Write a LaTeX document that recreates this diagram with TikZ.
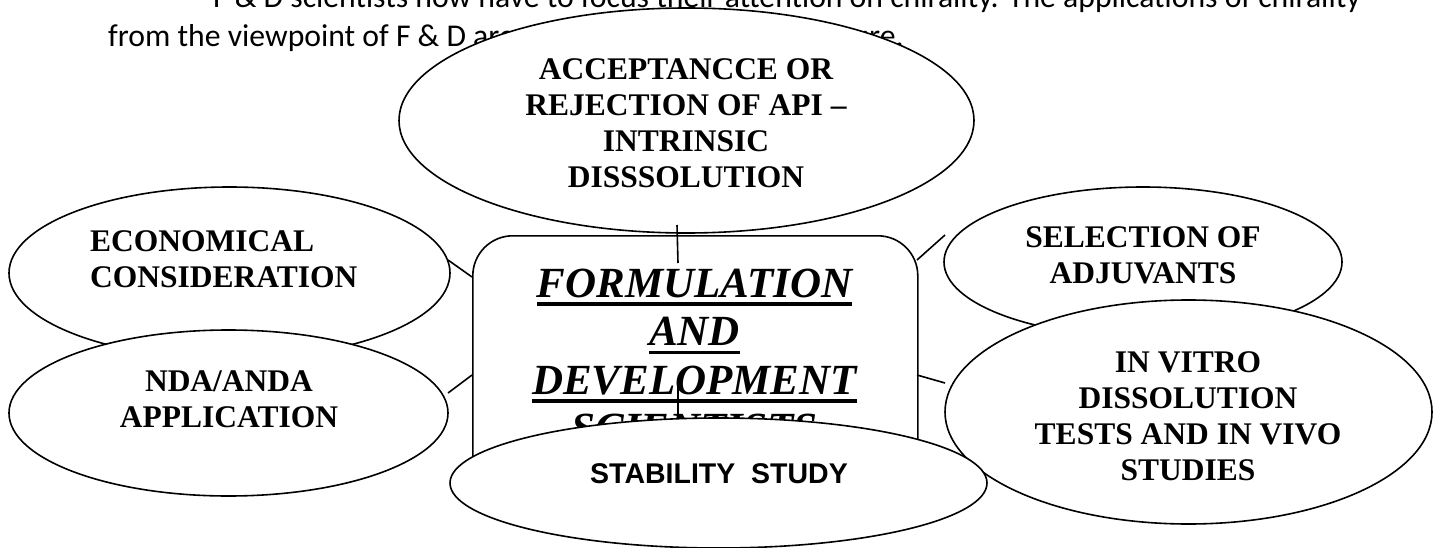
\documentclass[tikz,border=0pt]{standalone}
\usepackage{fontspec}
\setmainfont{Liberation Serif}
\newfontfamily\calibrifont{Carlito}
\newfontfamily\arialfont{Liberation Sans}
\usetikzlibrary{shapes.geometric}
\newcommand\myul[1]{\setbox0=\hbox{#1}\rlap{\rule[-8.8pt]{\wd0}{3.5pt}}\box0}
\begin{document}
\begin{tikzpicture}[x=1pt,y=-1pt,
  bubble/.style={ellipse,draw,fill=white,line width=1.6pt,inner sep=0pt},
  lbl/.style={inner sep=0pt,anchor=base,align=center,font=\bfseries\fontsize{31.5}{36}\selectfont},
  link/.style={line width=1.6pt},
  body/.style={inner sep=0pt,anchor=base west,font=\calibrifont\fontsize{31.7}{38}\selectfont}]
\useasboundingbox (0,0) rectangle (1439,548);
% running text
\node[body] (line1) at (213,8) {F \& D scientists now have to focus their attention on chirality. The applications of chirality};
\node[body] (line2) at (108,46.7) {from the viewpoint of F \& D are shown in the following figure.};
% top ellipse
\node[bubble,minimum width=575pt,minimum height=225pt] (accept) at (686.5,120.5) {};
\node[lbl] (accepttext) at (686,188) {ACCEPTANCCE OR\\REJECTION OF API \textendash\\INTRINSIC\\DISSSOLUTION};
% central box
\node[draw,fill=white,line width=1.6pt,rounded corners=40pt,minimum width=445pt,minimum height=285pt,inner sep=0pt,anchor=north west] (fd) at (472,235) {};
\node[inner sep=0pt,anchor=base,align=center,font=\bfseries\itshape\fontsize{43}{48.5}\selectfont] (fdtext) at (694.5,442.5)
  {\myul{FORMULATION}\\\myul{AND}\\\myul{DEVELOPMENT}\\\myul{SCIENTISTS}};
% left ellipses
\node[bubble,minimum width=441pt,minimum height=172pt] (econ) at (229.5,273) {};
\node[lbl,anchor=base west,align=left] (econtext) at (90,287) {ECONOMICAL\\CONSIDERATION};
\node[bubble,minimum width=439pt,minimum height=166pt] (nda) at (228.5,413) {};
\node[lbl] (ndatext) at (229,427) {NDA/ANDA\\APPLICATION};
% right ellipses
\node[bubble,minimum width=398pt,minimum height=150pt] (adj) at (1143,262) {};
\node[lbl] (adjtext) at (1143,283) {SELECTION OF\\ADJUVANTS};
\node[bubble,minimum width=487pt,minimum height=224pt] (vitro) at (1188.5,412) {};
\node[lbl] (vitrotext) at (1188,480) {IN VITRO\\DISSOLUTION\\TESTS AND IN VIVO\\STUDIES};
% bottom ellipse
\node[bubble,minimum width=537pt,minimum height=130pt] (stab) at (718.5,483) {};
\node[inner sep=0pt,anchor=base,font=\arialfont\bfseries\fontsize{28.5}{34}\selectfont] (stabtext) at (719,483) {STABILITY\ \ STUDY};
% connector end points
\coordinate (a1) at (677,225); \coordinate (a2) at (678,263);
\coordinate (b1) at (448,260); \coordinate (b2) at (472,277);
\coordinate (c1) at (448,393); \coordinate (c2) at (472,375);
\coordinate (d1) at (917,260); \coordinate (d2) at (945,235);
\coordinate (e1) at (917,375); \coordinate (e2) at (945,383);
\coordinate (f1) at (678,383); \coordinate (f2) at (678,418);
\draw[link] (a1) -- (a2);
\draw[link] (b1) -- (b2);
\draw[link] (c1) -- (c2);
\draw[link] (d1) -- (d2);
\draw[link] (e1) -- (e2);
\draw[link] (f1) -- (f2);
\end{tikzpicture}
\end{document}
